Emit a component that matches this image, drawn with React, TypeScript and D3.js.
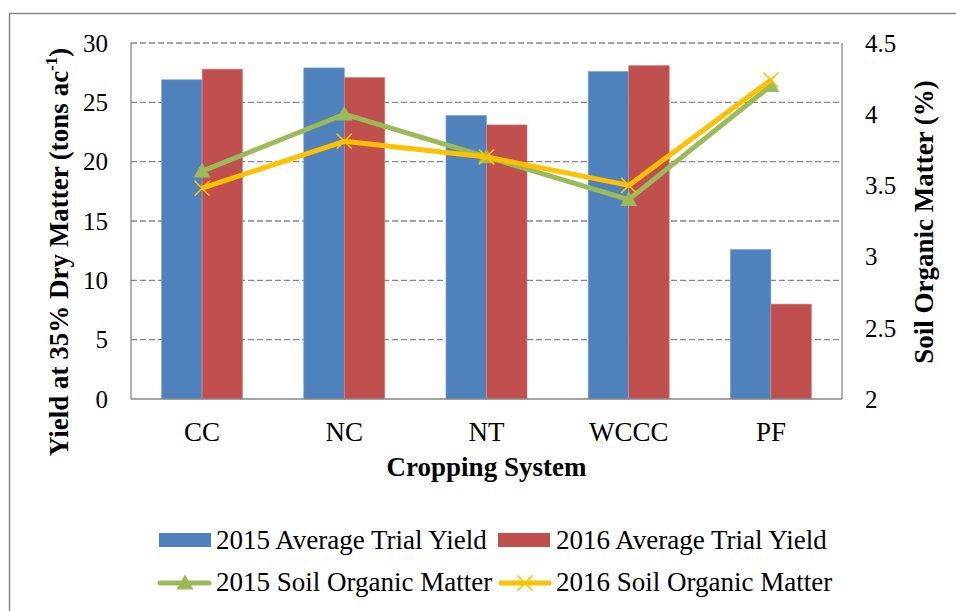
import React from "react";
import { scaleBand, scaleLinear, line } from "d3";

const systems = ["CC", "NC", "NT", "WCCC", "PF"];
const yield2015 = [26.9, 27.9, 23.9, 27.6, 12.6];
const yield2016 = [27.8, 27.1, 23.1, 28.1, 8.0];
const som2015 = [3.6, 4.0, 3.7, 3.4, 4.2];
const som2016 = [3.48, 3.81, 3.7, 3.5, 4.24];
const leftTicks = [0, 5, 10, 15, 20, 25, 30];
const rightTicks = [2, 2.5, 3, 3.5, 4, 4.5];

const FONT = "'Liberation Serif', 'Times New Roman', serif";
const BLUE = "#4F81BD";
const RED = "#C0504D";
const GREEN = "#9BBB59";
const GOLD = "#FFC000";

export default function App() {
  const width = 956,
    height = 611;
  const left = 131,
    right = 842,
    top = 43,
    bottom = 399;

  const x = scaleBand().domain(systems).range([left, right]);
  const yL = scaleLinear().domain([0, 30]).range([bottom, top]);
  const yR = scaleLinear().domain([2, 4.5]).range([bottom, top]);
  const bw = x.bandwidth() * 0.285;
  const cx = (d: string) => (x(d) as number) + x.bandwidth() / 2;

  const lineGen = line<number>()
    .x((_, i) => cx(systems[i]))
    .y(d => yR(d));

  const tri = (px: number, py: number, s = 8.5) =>
    `M${px},${py - s} L${px + s},${py + s * 0.75} L${px - s},${py + s * 0.75} Z`;
  const cross = (px: number, py: number, s = 7.5) =>
    `M${px - s},${py - s} L${px + s},${py + s} M${px - s},${py + s} L${px + s},${py - s}`;

  return (
    <svg
      width={width}
      height={height}
      style={{ position: "absolute", left: 0, top: 0, background: "#fff" }}
      fontFamily={FONT}
    >
      <rect x={9.5} y={13.5} width={980} height={640} fill="#fff" stroke="#888" strokeWidth={1.5} />

      {leftTicks.slice(1).map(t => (
        <line
          key={t}
          x1={left}
          x2={right}
          y1={yL(t)}
          y2={yL(t)}
          stroke="#878787"
          strokeWidth={1.3}
          strokeDasharray="6,3"
        />
      ))}

      {systems.map((s, i) => (
        <g key={s}>
          <rect
            x={cx(s) - bw}
            y={yL(yield2015[i])}
            width={bw}
            height={bottom - yL(yield2015[i])}
            fill={BLUE}
            stroke="#7EA2D2"
            strokeWidth={0.6}
          />
          <rect
            x={cx(s)}
            y={yL(yield2016[i])}
            width={bw}
            height={bottom - yL(yield2016[i])}
            fill={RED}
            stroke="#D88A88"
            strokeWidth={0.6}
          />
        </g>
      ))}

      <line x1={left} x2={left} y1={top} y2={bottom} stroke="#878787" strokeWidth={1.3} />
      <line x1={right} x2={right} y1={top} y2={bottom} stroke="#878787" strokeWidth={1.3} />
      <line x1={left} x2={right} y1={bottom} y2={bottom} stroke="#878787" strokeWidth={1.3} />

      <path d={lineGen(som2015) || ""} fill="none" stroke={GREEN} strokeWidth={5} strokeLinejoin="round" />
      {som2015.map((v, i) => (
        <path key={i} d={tri(cx(systems[i]), yR(v))} fill={GREEN} />
      ))}
      <path d={lineGen(som2016) || ""} fill="none" stroke={GOLD} strokeWidth={5} strokeLinejoin="round" />
      {som2016.map((v, i) => (
        <path key={i} d={cross(cx(systems[i]), yR(v))} stroke={GOLD} strokeWidth={1.6} fill="none" />
      ))}

      <g fontSize={25} fill="#000">
        {leftTicks.map(t => (
          <text key={t} x={108} y={yL(t)} dy="0.35em" textAnchor="end">
            {t}
          </text>
        ))}
        {rightTicks.map(t => (
          <text key={t} x={865} y={yR(t)} dy="0.35em" textAnchor="start">
            {t}
          </text>
        ))}
      </g>
      <g fontSize={27} fill="#000">
        {systems.map(s => (
          <text key={s} x={cx(s)} y={441} textAnchor="middle">
            {s}
          </text>
        ))}
      </g>

      <g fontSize={27} fontWeight="bold" fill="#000">
        <text x={(left + right) / 2} y={476} textAnchor="middle">
          Cropping System
        </text>
        <text transform="translate(68,252) rotate(-90)" textAnchor="middle">
          Yield at 35% Dry Matter (tons ac
          <tspan fontSize={17} dy={-11}>-1</tspan>
          <tspan dy={11}>)</tspan>
        </text>
        <text transform="translate(933,222) rotate(-90)" textAnchor="middle">
          Soil Organic Matter (%)
        </text>
      </g>

      <g fontSize={27} fill="#000">
        <rect x={159} y={533} width={52} height={14} fill={BLUE} />
        <text x={216} y={549}>2015 Average Trial Yield</text>
        <rect x={498} y={533} width={52} height={14} fill={RED} />
        <text x={556} y={549}>2016 Average Trial Yield</text>

        <line x1={160} x2={209} y1={583} y2={583} stroke={GREEN} strokeWidth={5} strokeLinecap="round" />
        <path d={tri(185, 583)} fill={GREEN} />
        <text x={216} y={591}>2015 Soil Organic Matter</text>
        <line x1={501} x2={549} y1={583} y2={583} stroke={GOLD} strokeWidth={5} strokeLinecap="round" />
        <path d={cross(525, 583)} stroke={GOLD} strokeWidth={1.6} fill="none" />
        <text x={556} y={591}>2016 Soil Organic Matter</text>
      </g>
    </svg>
  );
}
